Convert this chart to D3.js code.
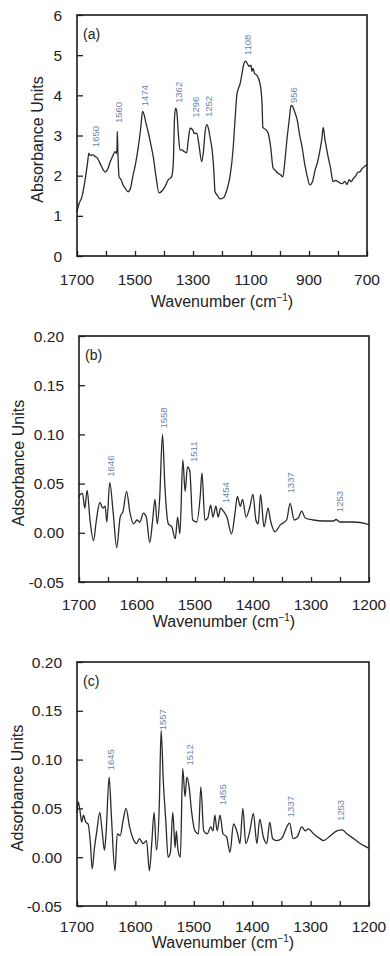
<!DOCTYPE html>
<html>
<head>
<meta charset="utf-8">
<script src="https://cdn.jsdelivr.net/npm/d3@7"></script>
<style>
  body { margin: 0; background: #fff; }
  svg { display: block; font-family: "Liberation Sans", Arial, sans-serif; }
</style>
</head>
<body>
<div id="chart"></div>
<script>
// panel (a) spectrum
const aWave = [1700,1693,1683,1672,1664,1659,1654,1645,1638,1631,1620,1610,1603,1595,1585,1576,1569,1564,1562,1561,1559,1555,1548,1540,1534,1524,1515,1507,1498,1489,1480,1474,1468,1462,1455,1446,1437,1428,1417,1407,1397,1385,1374,1368,1364,1360,1356,1350,1345,1339,1330,1322,1316,1310,1302,1295,1287,1280,1270,1264,1258,1252,1246,1240,1234,1228,1224,1215,1207,1195,1183,1172,1162,1155,1149,1142,1138,1132,1124,1118,1112,1106,1100,1097,1093,1088,1080,1069,1062,1059,1050,1041,1032,1024,1015,1007,998,990,984,976,968,962,956,950,941,932,924,915,905,897,888,879,870,862,856,851,845,840,834,826,817,808,800,793,785,777,769,762,755,748,740,732,724,716,707,700];
const aAbs = [1.1,1.3,1.47,1.9,2.3,2.56,2.5,2.52,2.48,2.45,2.3,2.15,2.09,2.15,2.35,2.5,2.6,2.55,2.7,3.1,2.6,1.97,1.9,1.75,1.69,1.6,1.7,2.0,2.3,2.7,3.2,3.6,3.5,3.3,3.1,2.8,2.47,2.0,1.57,1.62,1.72,1.9,1.97,2.3,3.4,3.68,3.6,3.0,2.65,2.64,2.6,2.57,2.9,3.18,3.15,3.05,3.06,2.8,2.35,2.6,3.1,3.27,3.15,2.9,2.64,2.1,1.6,1.5,1.42,1.45,1.65,2.0,2.64,3.4,4.0,4.2,4.28,4.5,4.8,4.85,4.78,4.72,4.75,4.6,4.67,4.55,4.5,4.3,3.8,3.2,3.15,3.06,2.7,2.2,2.12,2.06,2.02,1.97,2.3,2.9,3.4,3.75,3.72,3.6,3.4,3.0,2.72,2.3,1.95,1.77,1.85,2.14,2.35,2.64,2.9,3.2,2.9,2.7,2.47,2.2,1.85,1.88,1.85,1.82,1.8,1.86,1.78,1.9,1.85,1.92,1.98,2.08,2.1,2.18,2.24,2.28];

// panel (b) spectrum
const bWave = [1700,1698,1694,1690,1686,1681,1675,1670,1664,1659,1655,1652,1647,1641,1635,1629,1624,1618,1612,1606,1600,1595,1589,1584,1578,1573,1569,1565,1561,1556,1552,1546,1540,1534,1530,1526,1521,1517,1513,1509,1504,1497,1491,1488,1483,1478,1473,1469,1464,1460,1456,1451,1445,1437,1431,1427,1422,1418,1412,1406,1400,1395,1391,1387,1381,1374,1370,1362,1353,1342,1336,1329,1322,1316,1310,1296,1279,1261,1257,1250,1227,1204,1200];
const bAbs = [0.036,0.039,0.040,0.025,0.043,0.013,-0.008,0.013,0.031,0.025,0.027,0.011,0.051,0.020,-0.015,0.016,0.022,0.042,0.020,0.009,0.013,0.011,0.020,0.016,-0.010,0.013,0.034,0.009,0.034,0.100,0.048,0.009,0.006,-0.006,0.016,-0.001,0.074,0.042,0.067,0.063,0.013,0.011,0.037,0.061,0.013,0.015,0.028,0.016,0.027,0.016,0.025,0.022,0.016,-0.001,0.020,0.037,0.027,0.034,0.016,0.025,0.039,0.013,0.009,0.039,0.006,0.025,0.013,0.001,0.008,0.013,0.030,0.013,0.015,0.022,0.015,0.013,0.012,0.012,0.0135,0.011,0.011,0.009,0.008];

// panel (c) spectrum
const cWave = [1700,1698,1695,1692,1689,1685,1681,1677,1674,1670,1666,1661,1657,1653,1650,1645,1641,1635,1631,1626,1621,1616,1610,1604,1598,1593,1587,1581,1576,1572,1568,1564,1559,1556,1552,1548,1544,1540,1536,1532,1530,1527,1523,1519,1515,1512,1508,1504,1498,1492,1488,1483,1477,1471,1467,1464,1460,1455,1450,1444,1438,1432,1425,1421,1416,1411,1404,1398,1392,1387,1381,1375,1370,1365,1358,1350,1336,1330,1323,1315,1309,1304,1295,1284,1278,1266,1255,1246,1238,1226,1215,1203,1200];
const cAbs = [0.045,0.057,0.048,0.036,0.043,0.036,0.034,0.014,-0.012,0.010,0.027,0.046,0.027,0.007,0.027,0.082,0.041,-0.014,0.024,0.022,0.038,0.050,0.031,0.019,0.014,0.019,0.014,0.017,-0.014,0.014,0.046,0.007,0.055,0.130,0.075,0.038,0.000,0.005,0.046,0.010,0.027,0.007,0.000,0.091,0.062,0.082,0.072,0.048,0.027,0.024,0.072,0.027,0.024,0.031,0.027,0.043,0.027,0.043,0.024,0.021,0.005,0.034,0.024,0.014,0.050,0.014,0.027,0.045,0.014,0.039,0.021,0.014,0.036,0.019,0.017,0.019,0.035,0.019,0.021,0.031,0.027,0.029,0.024,0.019,0.017,0.022,0.027,0.028,0.024,0.019,0.014,0.010,0.009];

// peak labels: text, wavenumber where drawn, value at the label's lower end
const aPeakText = ['1650','1560','1474','1362','1296','1252','1108','956'];
const aPeakWave = [1634,1557,1466,1348,1291,1247,1111,953];
const aPeakY = [2.71,3.31,3.73,3.81,3.44,3.46,5.0,3.81];

const bPeakText = ['1646','1558','1511','1454','1337','1253'];
const bPeakWave = [1645,1554,1503,1447,1335,1251];
const bPeakY = [0.057,0.106,0.072,0.030,0.040,0.021];

const cPeakText = ['1645','1557','1512','1455','1337','1253'];
const cPeakWave = [1642,1554,1507,1450,1334,1249];
const cPeakY = [0.089,0.130,0.094,0.053,0.041,0.037];

// axis ticks
const aXLabels = [1700,1500,1300,1100,900,700];
const aXTicks = d3.range(1700, 699, -100);
const aYTicks = [0,1,2,3,4,5,6];
const bcXLabels = [1700,1600,1500,1400,1300,1200];
const bcXTicks = d3.range(1700, 1199, -50);
const bcYTicks = [-0.05,0,0.05,0.10,0.15,0.20];

const panels = [
  { tag: '(a)', wave: aWave, abs: aAbs, xDom: [1700,700], yDom: [0,6],
    xLabels: aXLabels, xTicks: aXTicks, yTicks: aYTicks, yFmt: d => String(d),
    peakText: aPeakText, peakWave: aPeakWave, peakY: aPeakY,
    yTitle: 'Absorbance Units',
    left: 77, top: 15, right: 367, bottom: 256, yTitleX: 38, labDy: 29, titleDy: 51 },
  { tag: '(b)', wave: bWave, abs: bAbs, xDom: [1700,1200], yDom: [-0.05,0.2],
    xLabels: bcXLabels, xTicks: bcXTicks, yTicks: bcYTicks, yFmt: d => d.toFixed(2),
    peakText: bPeakText, peakWave: bPeakWave, peakY: bPeakY,
    yTitle: 'Adsorbance Units',
    left: 79, top: 336, right: 369, bottom: 582, yTitleX: 19, labDy: 28, titleDy: 45 },
  { tag: '(c)', wave: cWave, abs: cAbs, xDom: [1700,1200], yDom: [-0.05,0.2],
    xLabels: bcXLabels, xTicks: bcXTicks, yTicks: bcYTicks, yFmt: d => d.toFixed(2),
    peakText: cPeakText, peakWave: cPeakWave, peakY: cPeakY,
    yTitle: 'Adsorbance Units',
    left: 77, top: 662, right: 369, bottom: 906, yTitleX: 18, labDy: 26, titleDy: 42 }
];

const svg = d3.select('#chart')
  .append('svg')
  .attr('width', 390)
  .attr('height', 956);

panels.forEach((p) => {
  const x = d3.scaleLinear().domain(p.xDom).range([p.left, p.right]);
  const y = d3.scaleLinear().domain(p.yDom).range([p.bottom, p.top]);
  const g = svg.append('g');

  // inward ticks
  g.append('g')
    .attr('transform', `translate(0,${p.bottom})`)
    .call(d3.axisTop(x).tickValues(p.xTicks).tickSize(5).tickFormat(''))
    .call((s) => s.select('.domain').remove());
  g.append('g')
    .attr('transform', `translate(${p.left},0)`)
    .call(d3.axisRight(y).tickValues(p.yTicks).tickSize(6).tickFormat(''))
    .call((s) => s.select('.domain').remove());
  g.selectAll('.tick line').attr('stroke', '#222').attr('stroke-width', 1.3);

  // tick labels
  g.append('g')
    .selectAll('text')
    .data(p.xLabels)
    .enter()
    .append('text')
      .attr('x', (d) => x(d))
      .attr('y', p.bottom + p.labDy)
      .attr('text-anchor', 'middle')
      .style('font-size', '15.5px')
      .attr('fill', '#222')
      .text((d) => d);
  g.append('g')
    .selectAll('text')
    .data(p.yTicks)
    .enter()
    .append('text')
      .attr('x', p.left - 15)
      .attr('y', (d) => y(d) + 5.5)
      .attr('text-anchor', 'end')
      .style('font-size', '15.5px')
      .attr('fill', '#222')
      .text((d) => p.yFmt(d));

  // spectrum
  const pts = p.wave.map((w, i) => [w, p.abs[i]]);
  g.append('path')
    .datum(pts)
    .attr('fill', 'none')
    .attr('stroke', '#2a2a2a')
    .attr('stroke-width', 1.3)
    .attr('stroke-linejoin', 'round')
    .attr('d', d3.line()
      .x((d) => x(d[0]))
      .y((d) => y(d[1]))
      .curve(d3.curveMonotoneX));

  // frame
  g.append('rect')
    .attr('x', p.left)
    .attr('y', p.top)
    .attr('width', p.right - p.left)
    .attr('height', p.bottom - p.top)
    .attr('fill', 'none')
    .attr('stroke', '#1a1a1a')
    .attr('stroke-width', 1.6);

  // peak labels
  g.append('g')
    .selectAll('text')
    .data(p.peakText)
    .enter()
    .append('text')
      .attr('transform', (d, i) => `translate(${x(p.peakWave[i]) + 3.3},${y(p.peakY[i])}) rotate(-90)`)
      .style('font-size', '9.5px')
      .attr('fill', '#6a86a8')
      .text((d) => d);

  // panel tag
  g.append('text')
    .attr('x', p.left + 6)
    .attr('y', p.top + 24)
    .style('font-size', '14px')
    .attr('fill', '#222')
    .text(p.tag);

  // axis titles
  const xt = g.append('text')
    .attr('x', (p.left + p.right) / 2)
    .attr('y', p.bottom + p.titleDy)
    .attr('text-anchor', 'middle')
    .style('font-size', '16px')
    .attr('fill', '#222');
  xt.append('tspan').text('Wavenumber (cm');
  xt.append('tspan').attr('dy', -6).style('font-size', '10px').text('\u22121');
  xt.append('tspan').attr('dy', 6).text(')');

  g.append('text')
    .attr('transform', `translate(${p.yTitleX + 5},${(p.top + p.bottom) / 2 + 4}) rotate(-90)`)
    .attr('text-anchor', 'middle')
    .style('font-size', '16px')
    .attr('fill', '#222')
    .text(p.yTitle);
});
</script>
</body>
</html>
